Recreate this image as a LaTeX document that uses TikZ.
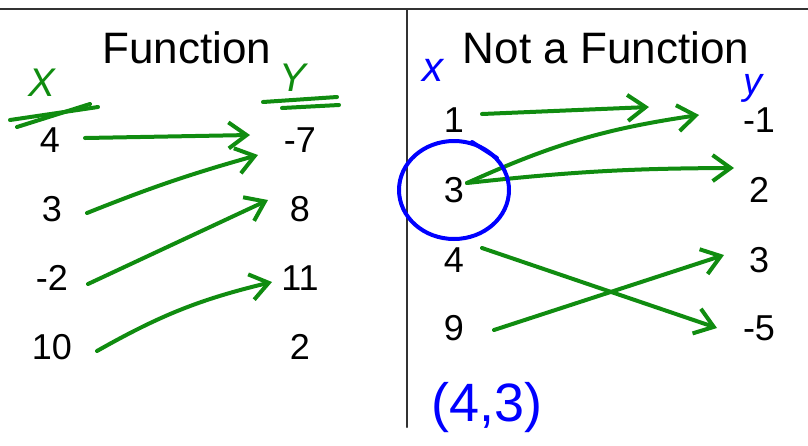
\documentclass[tikz,border=0pt]{standalone}
\usepackage{fontspec}
\setmainfont{Liberation Sans}
\usetikzlibrary{arrows.meta,calc}
\definecolor{penGreen}{RGB}{16,140,16}
\definecolor{penBlue}{RGB}{0,0,255}
\definecolor{frameGray}{RGB}{50,50,50}
\tikzset{
	num/.style={inner sep=0pt, font=\fontsize{36}{40}\selectfont},
	head/.style={inner sep=0pt, font=\fontsize{44}{48}\selectfont},
	hand/.style={inner sep=0pt, text height=0.5em, text depth=0.2em, font=\fontsize{#1}{#1}\selectfont\itshape},
	gline/.style={penGreen, line width=4pt, line cap=round, line join=round},
	garrow/.style={gline, -{Straight Barb[length=18pt, width=26pt, line width=4pt]}},
}
\begin{document}
\begin{tikzpicture}[x=1pt, y=-1pt, line join=round, line cap=round]
	\useasboundingbox (0,0) rectangle (808,445);

	% frame of the table
	\draw[frameGray, line width=2pt] (0,9) -- (808,9);
	\draw[frameGray, line width=2pt] (407,9) -- (407,427);

	% left half: a function
	\node[head] (ftitle) at (187,48) {Function};
	\node[num] (fx4) at (50,140) {4};
	\node[num] (fx3) at (52,209) {3};
	\node[num] (fxm2) at (52,278) {-2};
	\node[num] (fx10) at (52,347) {10};
	\node[num] (fym7) at (300,140) {-7};
	\node[num] (fy8) at (300,209) {8};
	\node[num] (fy11) at (300,278) {11};
	\node[num] (fy2) at (300,347) {2};

	% handwritten column heads
	\node[hand=40, text=penGreen, text height=0.72em] (fxlab) at (42,94) {X};
	\node[hand=40, text=penGreen, text height=0.72em] (fylab) at (293,89) {Y};
	\draw[gline] (10,120) -- (98,107);
	\draw[gline] (17,127) -- (90,104);
	\draw[gline] (263,102) -- (337,97);
	\draw[gline] (282,108) -- (339,105);

	% arrows x -> y
	\draw[garrow] ($(fx4)+(35,-2)$) -- ($(fym7)+(-50,-5)$);
	\draw[garrow] ($(fx3)+(35,4)$) to[bend left=3] ($(fym7)+(-42,15)$);
	\draw[garrow] ($(fxm2)+(36,6)$) -- ($(fy8)+(-32,-9)$);
	\draw[garrow] ($(fx10)+(45,4)$) to[bend left=8] ($(fy11)+(-28,4)$);

	% right half: not a function
	\node[head] (ntitle) at (606,48) {Not a Function};
	\node[num] (nx1) at (454,120) {1};
	\node[num] (nx3) at (454,190) {3};
	\node[num] (nx4) at (454,260) {4};
	\node[num] (nx9) at (454,328) {9};
	\node[num] (nym1) at (759,120) {-1};
	\node[num] (ny2) at (759,190) {2};
	\node[num] (ny3) at (759,260) {3};
	\node[num] (nym5) at (759,328) {-5};

	\node[hand=42, text=penBlue] (nxlab) at (433,80) {x};
	\node[hand=38, text=penBlue] (nylab) at (753,93) {y};
	\node[inner sep=0pt, font=\fontsize{54}{54}\selectfont, text=penBlue] (pair) at (487,408) {(4,3)};

	\draw[garrow] ($(nx1)+(28,-6)$) -- ($(nym1)+(-110,-13)$);
	\draw[garrow] ($(nx3)+(13,-7)$) to[bend left=8] ($(nym1)+(-60,-5)$);
	\draw[garrow] ($(nx3)+(13,-7)$) to[bend left=3] ($(ny2)+(-25,-22)$);
	\draw[garrow] ($(nx4)+(28,-12)$) -- ($(nym5)+(-42,0)$);
	\draw[garrow] ($(nx9)+(40,2)$) -- ($(ny3)+(-35,-5)$);

	% the repeated input circled
	\draw[penBlue, line width=4pt] (nx3) ellipse (55 and 49);
	\draw[penBlue, line width=4pt] (472,142) -- (497,158);

\end{tikzpicture}
\end{document}
